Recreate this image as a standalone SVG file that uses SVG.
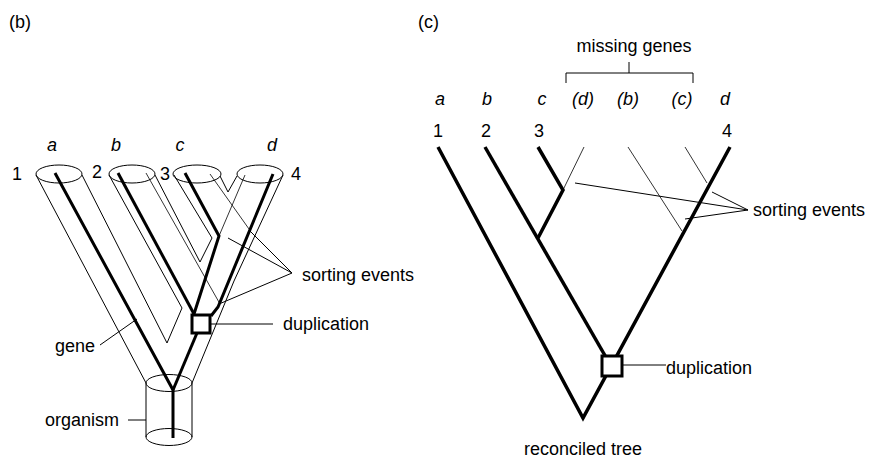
<svg xmlns="http://www.w3.org/2000/svg" width="874" height="459" viewBox="0 0 874 459">
  <style>
    text { font-family: "Liberation Sans", Arial, sans-serif; font-size: 18px; fill: #000; }
    .it { font-style: italic; }
    .mid { text-anchor: middle; }
    .tube { fill: none; stroke: #000; stroke-width: 1; stroke-linejoin: miter; }
    .gene { fill: none; stroke: #000; stroke-width: 3; stroke-linejoin: miter; }
    .lost { fill: none; stroke: #000; stroke-width: 0.8; }
    .ptr { fill: none; stroke: #000; stroke-width: 1; }
    .branch { fill: none; stroke: #000; stroke-width: 3.5; stroke-linejoin: miter; }
    .box { fill: #fff; stroke: #000; stroke-width: 3; }
  </style>

  <!-- Panel (b): gene tree inside the species tree tubes -->
  <g id="panel-b">
    <text x="9" y="28">(b)</text>

    <g id="b-tips">
      <text class="it mid" x="52" y="151">a</text>
      <text class="it mid" x="116" y="151">b</text>
      <text class="it mid" x="180" y="151">c</text>
      <text class="it mid" x="272" y="151">d</text>
      <text class="mid" x="17" y="180">1</text>
      <text class="mid" x="97" y="178">2</text>
      <text class="mid" x="165" y="180">3</text>
      <text class="mid" x="296" y="180">4</text>
    </g>

    <!-- species tree drawn as tubes -->
    <g id="species-tubes">
      <ellipse class="tube" cx="59" cy="174" rx="23" ry="9"/>
      <ellipse class="tube" cx="132" cy="174" rx="23" ry="9"/>
      <ellipse class="tube" cx="197" cy="174" rx="24" ry="9"/>
      <ellipse class="tube" cx="260" cy="174" rx="23" ry="9"/>
      <!-- tube 1 -->
      <path class="tube" d="M36,175 L146,383"/>
      <path class="tube" d="M82,175 L167,343 L182,308 L109,175"/>
      <!-- tube 2 / tube 3 -->
      <path class="tube" d="M155,175 L200,262 L212,238 L174,175"/>
      <path class="tube" d="M220,176 L228,192 L237,176"/>
      <!-- outer right edge -->
      <path class="tube" d="M283,175 L234,281 L192,383"/>
      <!-- organism cylinder -->
      <ellipse class="tube" cx="169" cy="383" rx="23" ry="8.5"/>
      <ellipse class="tube" cx="169" cy="437" rx="23" ry="8.5"/>
      <path class="tube" d="M146,383 L146,437 M192,383 L192,437"/>
    </g>

    <!-- gene lineages -->
    <g id="gene-lineages">
      <path class="gene" d="M55,173 L173,390 L173,438"/>
      <path class="gene" d="M118,173 L194,314"/>
      <path class="gene" d="M185,173 L219,236 L194,314"/>
      <path class="gene" d="M273,174 L218,307 L211,316"/>
      <path class="gene" d="M197,333 L173,390"/>
      <!-- lost copies -->
      <path class="lost" d="M146,173 L220,304"/>
      <path class="lost" d="M210,174 L249,229"/>
      <path class="lost" d="M245,175 L219,236"/>
    </g>

    <g id="b-duplication">
      <rect class="box" x="192" y="315" width="18" height="18"/>
      <text x="283" y="330">duplication</text>
    </g>
    <g id="b-sorting">
      <text x="302" y="281">sorting events</text>
    </g>
    <g id="b-gene-label">
      <text x="55" y="352">gene</text>
    </g>
    <g id="b-organism-label">
      <text x="45" y="426">organism</text>
    </g>

    <g id="b-connectors">
      <path class="ptr" d="M211,324 L273,324"/>
      <path class="ptr" d="M292,273 L250,231 M292,273 L228,238 M292,273 L219,304"/>
      <path class="ptr" d="M100,345 L137,319"/>
      <path class="ptr" d="M128,420 L146,420"/>
    </g>
  </g>

  <!-- Panel (c): reconciled tree -->
  <g id="panel-c">
    <text x="418" y="28">(c)</text>

    <g id="c-missing">
      <text class="mid" x="634" y="52">missing genes</text>
    </g>

    <g id="c-tips">
      <text class="it mid" x="440" y="105">a</text>
      <text class="it mid" x="487" y="105">b</text>
      <text class="it mid" x="542" y="105">c</text>
      <text class="it mid" x="583" y="105">(d)</text>
      <text class="it mid" x="628" y="105">(b)</text>
      <text class="it mid" x="682" y="105">(c)</text>
      <text class="it mid" x="725" y="105">d</text>
      <text class="mid" x="438" y="137">1</text>
      <text class="mid" x="486" y="137">2</text>
      <text class="mid" x="539" y="137">3</text>
      <text class="mid" x="727" y="137">4</text>
    </g>

    <g id="c-tree">
      <path class="branch" d="M438,147 L583,418 L730,147"/>
      <path class="branch" d="M485,147 L611,366"/>
      <path class="branch" d="M538,147 L563,190 L538,238"/>
      <path class="lost" d="M563,190 L584,147"/>
      <path class="lost" d="M628,147 L682,231"/>
      <path class="lost" d="M685,147 L707,183"/>
    </g>

    <g id="c-duplication">
      <rect class="box" x="602" y="356" width="20" height="20"/>
      <text x="666" y="374">duplication</text>
    </g>
    <g id="c-sorting">
      <text x="753" y="216">sorting events</text>
    </g>
    <g id="c-reconciled">
      <text class="mid" x="583" y="455">reconciled tree</text>
    </g>

    <g id="c-connectors">
      <path class="ptr" d="M629,62 L629,73 M566,83 L566,73 L693,73 L693,83"/>
      <path class="ptr" d="M622,365 L666,365"/>
      <path class="ptr" d="M748,210 L575,183 M748,210 L712,192 M748,210 L685,219"/>
    </g>
  </g>
</svg>
